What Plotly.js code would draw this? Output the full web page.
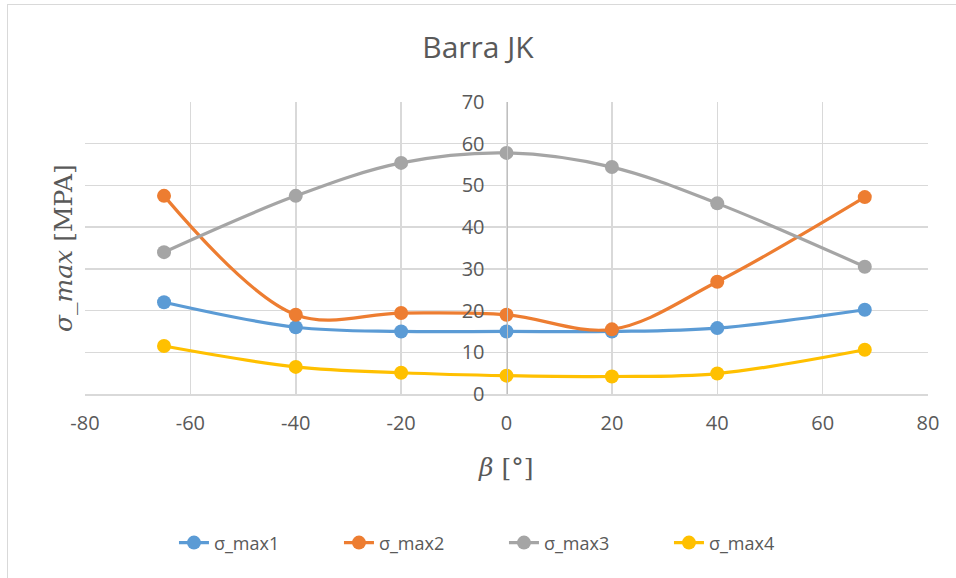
<!DOCTYPE html>
<html>
<head>
<meta charset="utf-8">
<script src="https://cdn.plot.ly/plotly-3.0.1.min.js"></script>
<style>
  body { margin:0; padding:0; background:#fff; }
  #wrap { position:relative; width:956px; height:578px; overflow:hidden; }
  #chart { position:absolute; left:0; top:0; width:956px; height:578px; }
  #frame { position:absolute; left:7px; top:4px; width:980px; height:600px; border:1.5px solid #d9d9d9; pointer-events:none; }
</style>
</head>
<body>
<div id="wrap"><div id="chart"></div><div id="frame"></div></div>
<script>
const beta = [-65, -40, -20, 0, 20, 40, 68];
const sigmaMax1 = [22.0, 16.0, 15.0, 15.0, 15.0, 15.8, 20.2];
const sigmaMax2 = [47.5, 19.0, 19.4, 19.0, 15.5, 26.9, 47.2];
const sigmaMax3 = [34.0, 47.5, 55.4, 57.8, 54.4, 45.7, 30.5];
const sigmaMax4 = [11.5, 6.5, 5.1, 4.4, 4.2, 4.9, 10.6];
const seriesNames = ['σ_max1', 'σ_max2', 'σ_max3', 'σ_max4'];
const seriesColors = ['#5b9bd5', '#ed7d31', '#a5a5a5', '#ffc000'];
const seriesData = [sigmaMax1, sigmaMax2, sigmaMax3, sigmaMax4];
const xTickVals = [-80, -60, -40, -20, 0, 20, 40, 60, 80];
const xTickText = ['-80', '-60', '-40', '-20', '0', '20', '40', '60', '80'];

const traces = seriesData.map((ys, i) => ({
  x: beta, y: ys, name: seriesNames[i], type: 'scatter', mode: 'lines+markers',
  line: {color: seriesColors[i], width: 3.2, shape: 'spline', smoothing: 1},
  marker: {color: seriesColors[i], size: 14}
}));

const font = 'Open Sans, Liberation Sans, sans-serif';
const layout = {
  width: 956, height: 578,
  margin: {l: 85, r: 28, t: 102, b: 184},
  paper_bgcolor: 'rgba(0,0,0,0)', plot_bgcolor: '#fff',
  showlegend: true,
  title: {text: 'Barra JK', font: {family: font, size: 30, color: '#595959'}, x: 0.5, xanchor: 'center', y: 0.918, yanchor: 'middle'},
  xaxis: {
    range: [-80, 80], tickmode: 'array', tickvals: xTickVals, ticktext: xTickText,
    showgrid: true, gridcolor: '#d9d9d9', gridwidth: 1.5,
    zeroline: false, showline: true, linecolor: '#d9d9d9', linewidth: 1.5,
    ticks: '', tickfont: {family: font, size: 20, color: '#595959'}, ticklabelstandoff: 10,
    fixedrange: true
  },
  yaxis: {
    range: [0, 70], dtick: 10, showgrid: true, gridcolor: '#d9d9d9', gridwidth: 1.5,
    zeroline: false, showline: true, linecolor: '#bfbfbf', linewidth: 1.5,
    anchor: 'free', position: 0.5,
    ticks: '', tickfont: {family: font, size: 20, color: '#595959'}, ticklabelstandoff: 18,
    fixedrange: true
  },
  legend: {orientation: 'h', x: 0.497, xanchor: 'center', y: -0.51, yanchor: 'middle',
    font: {family: font, size: 18, color: '#595959'}, entrywidth: 120, entrywidthmode: 'pixels'},
  annotations: [
    {text: '<i>β</i> [°]', xref: 'paper', yref: 'paper', x: 0.4985, y: -0.25, xanchor: 'center', yanchor: 'middle',
     showarrow: false, font: {family: 'DejaVu Serif, serif', size: 25, color: '#595959'}},
    {text: '<i>σ_max</i> [MPA]', xref: 'paper', yref: 'paper', x: -0.026, y: 0.5, xanchor: 'center', yanchor: 'middle',
     textangle: -90, showarrow: false, font: {family: 'DejaVu Serif, serif', size: 25, color: '#595959'}}
  ]
};
Plotly.newPlot('chart', traces, layout, {displayModeBar: false, staticPlot: true});
</script>
</body>
</html>
